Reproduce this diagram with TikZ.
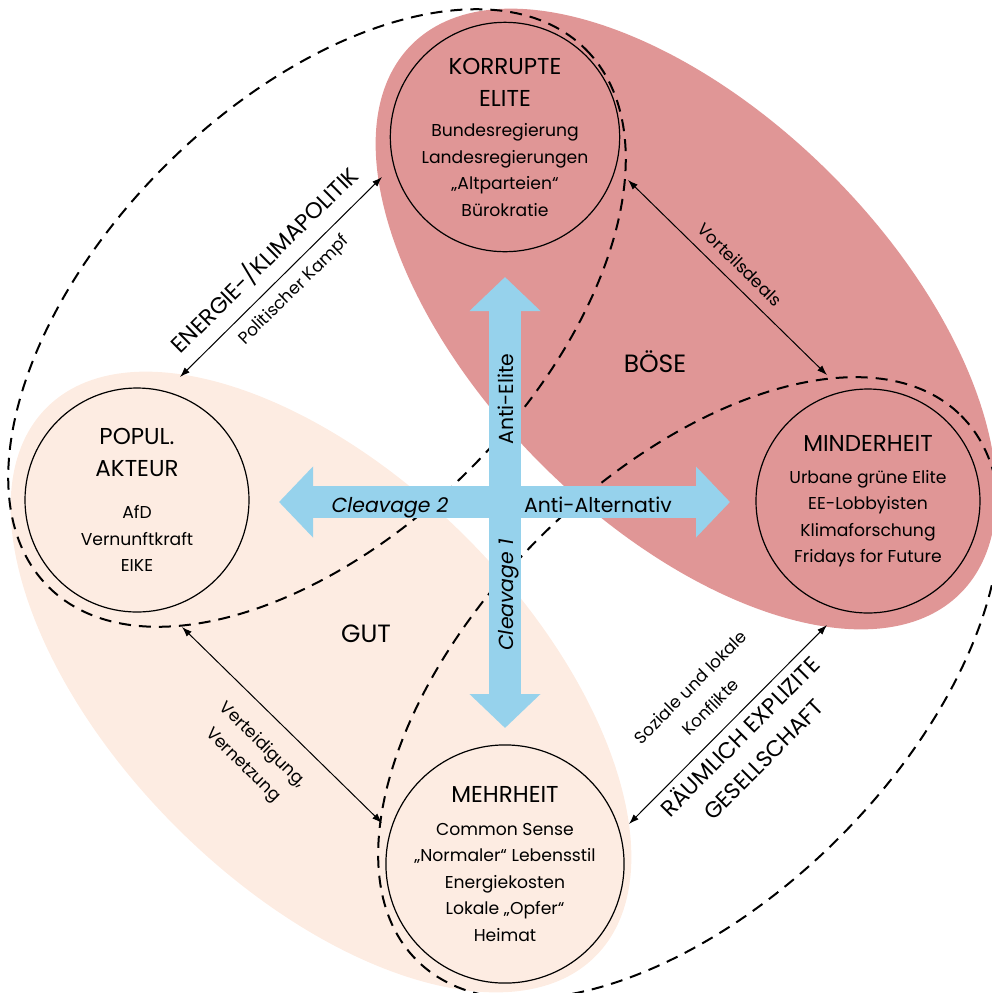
\documentclass[tikz,border=0pt]{standalone}
\usepackage{fontspec}
\setmainfont{Poppins}
\usetikzlibrary{positioning,arrows.meta}
\definecolor{boese}{RGB}{224,150,150}
\definecolor{gut}{RGB}{253,236,226}
\definecolor{cleave}{RGB}{150,210,236}

\begin{document}
\begin{tikzpicture}[x=0.5pt,y=-0.5pt,
  actor/.style={circle,draw,line width=0.6pt,minimum size=112pt,inner sep=0pt,align=center,font=\fontsize{8.6}{13.25}\selectfont},
  camp/.style={line width=1pt,dash pattern=on 6pt off 4pt},
  link/.style={line width=0.5pt,{Latex[length=5pt,width=3.5pt]}-{Latex[length=5pt,width=3.5pt]}},
  axis/.style={draw=cleave,line width=16pt,{Triangle[length=17pt,width=34.5pt]}-{Triangle[length=17pt,width=34.5pt]}},
  axistext/.style={inner sep=0pt,anchor=base,font=\fontsize{10.2}{12}\selectfont},
  lbl/.style={inner sep=0pt,align=center,font=\fontsize{8.5}{14}\selectfont},
  big/.style={inner sep=0pt,align=center,font=\fontsize{11.3}{16.5}\selectfont}]
\def\ttl#1{{\fontsize{11.5}{16}\selectfont #1}}

\useasboundingbox (0,0) rectangle (992,993);

% gut / boese
\fill[gut,rotate around={-45:(321,682)}] (321,682) ellipse [x radius=388,y radius=205];
\fill[boese,rotate around={-45:(686,319)}] (686,319) ellipse [x radius=388,y radius=205];

\draw[camp,rotate around={45:(317,318)}] (317,318) ellipse [x radius=380,y radius=215];
\draw[camp,rotate around={45:(689,688)}] (689,688) ellipse [x radius=385,y radius=212];

\node[actor] (elite) at (505,137) {\ttl{KORRUPTE}\\[2.75pt]\ttl{ELITE}\\[2pt]Bundesregierung\\Landesregierungen\\„Altparteien“\\Bürokratie};
\node[actor] (popul) at (137,500) {\ttl{POPUL.}\\[2.75pt]\ttl{AKTEUR}\\[7.75pt]AfD\\Vernunftkraft\\EIKE};
\node[actor] (minder) at (868,501) {\ttl{MINDERHEIT}\\[2.75pt]Urbane grüne Elite\\EE-Lobbyisten\\Klimaforschung\\Fridays for Future};
\node[actor] (mehr) at (505,864) {\ttl{MEHRHEIT}\\[3.25pt]Common Sense\\„Normaler“ Lebensstil\\Energiekosten\\Lokale „Opfer“\\Heimat};

% cleavages
\coordinate (top) at (505,277);
\coordinate (bottom) at (505,728);
\coordinate (west) at (279,502);
\coordinate (east) at (730,502);
\draw[axis] (bottom) -- (top);
\draw[axis] (west) -- (east);

\node[axistext,rotate=90] (antielite) at (513,399) {Anti-Elite};
\node[axistext,rotate=90] (cleavage1) at (513,595) {\itshape Cleavage 1};
\node[axistext] (cleavage2) at (390,512) {\itshape Cleavage 2};
\node[axistext] (antialt) at (598,512) {Anti-Alternativ};
\node[big,anchor=base,font=\fontsize{12.5}{15}\selectfont] (boesetxt) at (655,372) {BÖSE};
\node[big,anchor=base,font=\fontsize{12.5}{15}\selectfont] (guttxt) at (366,642) {GUT};

% Beziehungen
\coordinate (a1) at (180,377);
\coordinate (a2) at (382,177);
\coordinate (b1) at (628,180);
\coordinate (b2) at (827,375);
\coordinate (c1) at (182,627);
\coordinate (c2) at (382,823);
\coordinate (d1) at (629,824);
\coordinate (d2) at (827,625);

\draw[link] (a1) -- node[big,sloped,above=5.5pt] (energie) {ENERGIE-/KLIMAPOLITIK}
  node[lbl,sloped,below=5pt] (kampf) {Politischer Kampf} (a2);
\draw[link] (b1) -- node[lbl,sloped,above=5.5pt] (deals) {Vorteilsdeals} (b2);
\draw[link] (c1) -- node[lbl,sloped,below=9.5pt] (vert) {Verteidigung,\\Vernetzung} (c2);
\draw[link] (d1) -- node[lbl,sloped,above=9pt] (konfl) {Soziale und lokale\\Konflikte}
  node[big,sloped,below=2.5pt] (raum) {RÄUMLICH EXPLIZITE\\GESELLSCHAFT} (d2);

\end{tikzpicture}
\end{document}
